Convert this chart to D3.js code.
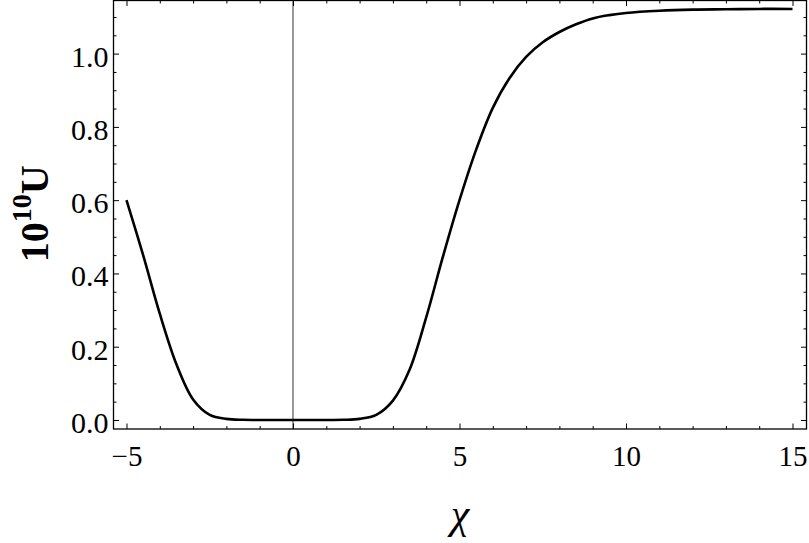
<!DOCTYPE html>
<html>
<head>
<meta charset="utf-8">
<script src="https://cdn.jsdelivr.net/npm/d3@7/dist/d3.min.js"></script>
<style>
  html, body { margin: 0; padding: 0; background: #fff; }
  svg { display: block; }
</style>
</head>
<body>
<svg id="chart" width="809" height="543"></svg>
<script>
// ---- data ----
const chi = [-5, -4.5, -4, -3.5, -3, -2.5, -2, -1.5, -1, 0, 1, 1.5, 2, 2.5, 3, 3.5, 4, 4.5, 5, 5.5, 6, 6.5, 7, 7.5, 8, 8.5, 9, 9.5, 10, 11, 12, 13, 14, 15];
const U   = [0.60, 0.45, 0.29, 0.152, 0.056, 0.014, 0.003, 0.0005, 0, 0, 0, 0.0005, 0.003, 0.014, 0.053, 0.137, 0.28, 0.445, 0.60, 0.738, 0.852, 0.933, 0.991, 1.031, 1.059, 1.080, 1.096, 1.105, 1.111, 1.117, 1.120, 1.121, 1.122, 1.122];
const xMajorTicks = [-5, 0, 5, 10, 15];
const xMinorTicks = [-4, -3, -2, -1, 1, 2, 3, 4, 6, 7, 8, 9, 11, 12, 13, 14];
const yMajorTicks = [0, 0.2, 0.4, 0.6, 0.8, 1.0];
const yMinorTicks = [0.05, 0.1, 0.15, 0.25, 0.3, 0.35, 0.45, 0.5, 0.55, 0.65, 0.7, 0.75, 0.85, 0.9, 0.95, 1.05, 1.1];
const xTickLabels = ["\u22125", "0", "5", "10", "15"];
const yTickLabels = ["0.0", "0.2", "0.4", "0.6", "0.8", "1.0"];
const xDomain = [-5.39, 15.42];
const yDomain = [-0.0246, 1.145];

// ---- layout ----
const FONT = "'Liberation Serif', 'Times New Roman', serif";
const L = 113.5, R = 806.5, T = 0.5, B = 429;
const svg = d3.select("#chart");
const x = d3.scaleLinear().domain(xDomain).range([L, R]);
const y = d3.scaleLinear().domain(yDomain).range([B, T]);

const majorLen = 5.5, minorLen = 3;

function styleAxis(g) {
  g.select(".domain").remove();
  g.attr("font-family", FONT);
  g.selectAll(".tick line").attr("stroke", "#000").attr("stroke-width", 1);
}

// bottom major with labels
const gb = svg.append("g").attr("transform", `translate(0,${B})`)
  .call(d3.axisBottom(x).tickValues(xMajorTicks).tickSizeInner(-majorLen).tickSizeOuter(0)
    .tickPadding(0).tickFormat((d, i) => xTickLabels[i]));
styleAxis(gb);
gb.selectAll(".tick text").attr("font-size", 29).attr("y", 37).attr("dy", 0)
  .attr("font-family", FONT).attr("fill", "#000");
const gbm = svg.append("g").attr("transform", `translate(0,${B})`)
  .call(d3.axisBottom(x).tickValues(xMinorTicks).tickSizeInner(-minorLen).tickSizeOuter(0).tickFormat(""));
styleAxis(gbm);
// top
const gt = svg.append("g").attr("transform", `translate(0,${T})`)
  .call(d3.axisTop(x).tickValues(xMajorTicks).tickSizeInner(-majorLen).tickSizeOuter(0).tickFormat(""));
styleAxis(gt);
const gtm = svg.append("g").attr("transform", `translate(0,${T})`)
  .call(d3.axisTop(x).tickValues(xMinorTicks).tickSizeInner(-minorLen).tickSizeOuter(0).tickFormat(""));
styleAxis(gtm);

// left major with labels
const gl = svg.append("g").attr("transform", `translate(${L},0)`)
  .call(d3.axisLeft(y).tickValues(yMajorTicks).tickSizeInner(-majorLen).tickSizeOuter(0)
    .tickPadding(0).tickFormat((d, i) => yTickLabels[i]));
styleAxis(gl);
gl.selectAll(".tick text").attr("font-size", 30).attr("x", -5).attr("dy", 12.5)
  .attr("font-family", FONT).attr("fill", "#000");
const glm = svg.append("g").attr("transform", `translate(${L},0)`)
  .call(d3.axisLeft(y).tickValues(yMinorTicks).tickSizeInner(-minorLen).tickSizeOuter(0).tickFormat(""));
styleAxis(glm);
// right
const gr = svg.append("g").attr("transform", `translate(${R},0)`)
  .call(d3.axisRight(y).tickValues(yMajorTicks).tickSizeInner(-majorLen).tickSizeOuter(0).tickFormat(""));
styleAxis(gr);
const grm = svg.append("g").attr("transform", `translate(${R},0)`)
  .call(d3.axisRight(y).tickValues(yMinorTicks).tickSizeInner(-minorLen).tickSizeOuter(0).tickFormat(""));
styleAxis(grm);

// frame
svg.append("rect").attr("x", L).attr("y", T).attr("width", R - L).attr("height", B - T)
  .attr("fill", "none").attr("stroke", "#000").attr("stroke-width", 1.3);

// vertical axis line at chi = 0
svg.append("line").attr("x1", x(0)).attr("x2", x(0)).attr("y1", T).attr("y2", B)
  .attr("stroke", "#000").attr("stroke-width", 0.8);

// curve
const line = d3.line().x((d, i) => x(chi[i])).y(d => y(d)).curve(d3.curveCatmullRom.alpha(0.5));
svg.append("path").datum(U).attr("d", line)
  .attr("fill", "none").attr("stroke", "#000").attr("stroke-width", 2.6)
  .attr("stroke-linejoin", "round").attr("stroke-linecap", "butt");

// y label: 10^10 U
const yl = svg.append("text")
  .attr("transform", `translate(48,${(T + B) / 2 - 1}) rotate(-90)`)
  .attr("text-anchor", "middle").attr("font-weight", "bold").attr("font-size", 40)
  .attr("font-family", FONT);
yl.append("tspan").text("10");
yl.append("tspan").attr("font-size", 28).attr("dy", -17).text("10");
yl.append("tspan").attr("dy", 17).text("U");

// x label
svg.append("text").attr("x", (L + R) / 2).attr("y", 528).attr("text-anchor", "middle")
  .attr("font-style", "italic").attr("font-size", 42).attr("font-family", FONT).text("\u03c7");
</script>
</body>
</html>
